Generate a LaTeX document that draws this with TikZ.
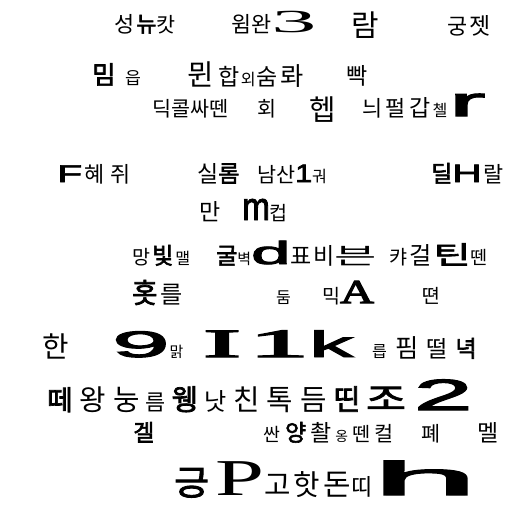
\documentclass[tikz,border=0pt]{standalone}
\usepackage{fontspec}
\usepackage{graphicx}
\setmainfont{Noto Sans CJK KR}[AutoFakeBold=2.5]
\newfontfamily\latserif{Liberation Serif}[AutoFakeBold=3]
\newfontfamily\latsans{Liberation Sans}[AutoFakeBold=2.5]
% size, bold size, stretched Latin letters
\newcommand{\fsc}[1]{\fpeval{1.15*#1}}
\newcommand{\sz}[2]{{\fontsize{\fsc{#1}}{\fsc{#1}}\selectfont #2}}
\newcommand{\bsz}[2]{{\fontsize{\fsc{#1}}{\fsc{#1}}\selectfont\bfseries #2}}
\newcommand{\wideit}[2]{\scalebox{#1}[1]{#2}}
\newcommand{\srf}[3]{\scalebox{#2}[1]{\fontsize{\fsc{#1}}{\fsc{#1}}\selectfont\latserif #3}}
\newcommand{\srb}[3]{\scalebox{#2}[1]{\fontsize{\fsc{#1}}{\fsc{#1}}\selectfont\latserif\bfseries #3}}
\newcommand{\sbf}[3]{\scalebox{#2}[1]{\fontsize{\fsc{#1}}{\fsc{#1}}\selectfont\latsans\bfseries #3}}
\tikzset{word/.style={anchor=base west, inner sep=0pt}}
\begin{document}
\begin{tikzpicture}[x=1pt,y=-1pt]
        \useasboundingbox (0,0) rectangle (512,512);
        % row 1
        \node[word] (r1a) at (114,32) {\sz{19}{성}\hspace{2pt}\bsz{19}{뉴}\sz{18}{캇}};
        \node[word] (r1b) at (231,32) {\sz{19}{윔완}\srf{28}{2.8}{3}};
        \node[word] (r1c) at (351,36) {\sz{26}{람}};
        \node[word] (r1d) at (447,34) {\sz{19}{궁}\hspace{2pt}\sz{20}{젯}};
        % row 2
        \node[word] (r2a) at (92,84) {\bsz{22}{밈}\hspace{10pt}\sz{15}{읍}};
        \node[word] (r2b) at (187,85) {\sz{25}{뮌}\hspace{5pt}\sz{20}{합}\hspace{1pt}\sz{14}{외}\hspace{1pt}\sz{20}{숨}\hspace{3pt}\sz{22}{롸}};
        \node[word] (r2c) at (346,84) {\sz{20}{빡}};
        % row 3
        \node[word] (r3a) at (152,116) {\sz{18}{딕콜싸뗀}};
        \node[word] (r3b) at (257,116) {\sz{18}{회}};
        \node[word] (r3c) at (309,120) {\sz{25}{헵}};
        \node[word] (r3d) at (362,116) {\sz{19}{늬}\hspace{3pt}\sz{19}{펄}\hspace{4pt}\sz{20}{갑}\hspace{2pt}\sz{14}{첼}\hspace{2pt}\sbf{36}{2.6}{r}};
        % row 4
        \node[word] (r4a) at (57,182) {\sbf{21}{1.7}{F}\hspace{2pt}\sz{19}{혜}\hspace{6pt}\sz{19}{쥐}};
        \node[word] (r4b) at (197,182) {\sz{20}{실}\bsz{20}{롬}};
        \node[word] (r4c) at (257,182) {\sz{18}{남산}\sbf{22}{1.2}{1}\sz{14}{궈}};
        \node[word] (r4d) at (431,182) {\bsz{20}{딜}\sbf{22}{1.6}{H}\hspace{2pt}\sz{19}{랄}};
        % row 5
        \node[word] (r5a) at (199,220) {\sz{20}{만}};
        \node[word] (r5b) at (242,220) {\sbf{34}{0.85}{m}\sz{17}{컵}};
        % row 6
        \node[word] (r6a) at (132,264) {\sz{17}{망}\hspace{2pt}\bsz{20}{빛}\hspace{2pt}\sz{14}{맬}};
        \node[word] (r6b) at (216,264) {\bsz{20}{굴}\sz{13}{벽}\sbf{28}{2.2}{d}\sz{20}{표}\hspace{2pt}\sz{20}{비}\wideit{2}{\sz{20}{븐}}};
        \node[word] (r6c) at (389,264) {\sz{17}{캬}\hspace{2pt}\sz{21}{걸}\hspace{2pt}\wideit{1.6}{\bsz{22}{틴}}\sz{16}{뗀}};
        % row 7
        \node[word] (r7a) at (132,303) {\bsz{24}{홋}\hspace{3pt}\sz{21}{를}};
        \node[word] (r7b) at (276,303) {\sz{14}{둠}};
        \node[word] (r7c) at (322,303) {\sz{17}{믹}\srb{29}{1.4}{A}};
        \node[word] (r7d) at (422,303) {\sz{17}{뗜}};
        % row 8
        \node[word] (r8a) at (42,357) {\sz{25}{한}};
        \node[word] (r8b) at (112,357) {\sbf{32}{2.8}{9}\sz{13}{맑}\hspace{20pt}\srb{35}{2.8}{I}\hspace{8pt}\srb{35}{3}{1}\sbf{32}{2.4}{k}};
        \node[word] (r8c) at (372,357) {\sz{14}{릅}\hspace{8pt}\sz{22}{핌}\hspace{8pt}\sz{20}{떨}\hspace{8pt}\bsz{20}{녁}};
        % row 9
        \node[word] (r9a) at (47,410) {\bsz{24}{떼}\hspace{7pt}\sz{25}{왕}\hspace{7pt}\sz{25}{눙}\hspace{6pt}\sz{19}{름}\hspace{6pt}\bsz{25}{웽}\hspace{6pt}\sz{21}{낫}\hspace{7pt}\sz{25}{친}\hspace{7pt}\sz{25}{톡}\hspace{7pt}\sz{25}{듬}\hspace{7pt}\bsz{25}{띤}\hspace{6pt}\wideit{1.4}{\bsz{27}{조}}\hspace{8pt}\sbf{38}{2.4}{2}};
        % row 10
        \node[word] (r10a) at (133,441) {\bsz{20}{겔}};
        \node[word] (r10b) at (263,441) {\sz{16}{싼}\hspace{5pt}\bsz{20}{양}\hspace{4pt}\sz{20}{촬}\hspace{4pt}\sz{12}{옹}\hspace{4pt}\sz{17}{뗀}\hspace{4pt}\sz{18}{컬}};
        \node[word] (r10c) at (421,441) {\sz{18}{폐}};
        \node[word] (r10d) at (477,441) {\sz{20}{멜}};
        % row 11
        \node[word] (r11a) at (174,495) {\wideit{1.1}{\bsz{30}{긍}}\hspace{6pt}\srf{45}{1.7}{P}\sz{25}{고}\hspace{3pt}\sz{25}{핫}\hspace{4pt}\sz{26}{돈}\sz{20}{띠}\sbf{41}{4}{h}};
\end{tikzpicture}
\end{document}
